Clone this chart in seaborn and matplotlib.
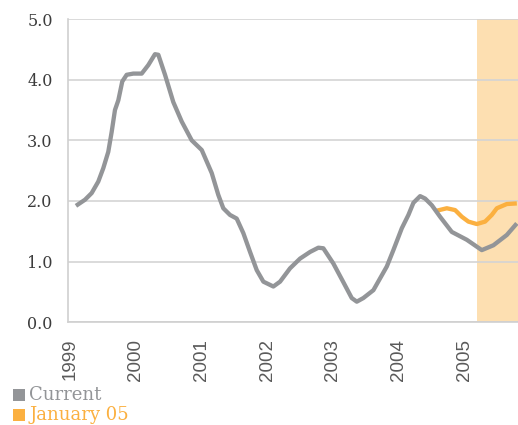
import matplotlib
matplotlib.use("Agg")
import matplotlib.pyplot as plt
import seaborn as sns
import pandas as pd
from matplotlib.patches import Rectangle

# Data (decimal years, value)
current_t = [1999.091, 1999.228, 1999.330, 1999.431, 1999.507, 1999.583, 1999.635, 1999.685,
             1999.736, 1999.796, 1999.863, 1999.964, 2000.092, 2000.192, 2000.294, 2000.345,
             2000.447, 2000.573, 2000.701, 2000.853, 2001.006, 2001.082, 2001.158, 2001.258,
             2001.334, 2001.436, 2001.538, 2001.639, 2001.741, 2001.843, 2001.944, 2002.096,
             2002.198, 2002.350, 2002.502, 2002.655, 2002.781, 2002.857, 2003.009, 2003.162,
             2003.289, 2003.366, 2003.466, 2003.619, 2003.823, 2003.923, 2004.051, 2004.152,
             2004.228, 2004.330, 2004.406, 2004.508, 2004.634, 2004.812, 2005.041, 2005.269,
             2005.446, 2005.650, 2005.802]
current_v = [1.92, 2.02, 2.13, 2.32, 2.54, 2.81, 3.14, 3.50,
             3.66, 3.97, 4.08, 4.10, 4.10, 4.24, 4.42, 4.41,
             4.08, 3.63, 3.31, 3.00, 2.84, 2.65, 2.46, 2.10,
             1.88, 1.77, 1.71, 1.47, 1.16, 0.86, 0.67, 0.59,
             0.67, 0.89, 1.05, 1.16, 1.23, 1.22, 0.97, 0.66,
             0.40, 0.34, 0.40, 0.53, 0.92, 1.19, 1.55, 1.77,
             1.97, 2.08, 2.04, 1.93, 1.74, 1.49, 1.36, 1.19,
             1.27, 1.44, 1.63]
jan05_t = [2004.584, 2004.736, 2004.863, 2004.965, 2005.065, 2005.193, 2005.319,
           2005.421, 2005.498, 2005.650, 2005.802]
jan05_v = [1.84, 1.88, 1.85, 1.74, 1.66, 1.62, 1.66, 1.77, 1.88, 1.95, 1.96]
year_ticks = [1999, 2000, 2001, 2002, 2003, 2004, 2005]
year_labels = ["1999", "2000", "2001", "2002", "2003", "2004", "2005"]
y_ticks = [0.0, 1.0, 2.0, 3.0, 4.0, 5.0]
shade_start = 2005.20
series_names = ["Current", "January 05"]

GRAY = "#939598"
ORANGE = "#FBB040"
SHADE = "#FDDFB1"

sns.set_theme(style="white")
plt.rcParams['font.family'] = ['DejaVu Sans']

W, H = 518, 425
fig = plt.figure(figsize=(W / 100, H / 100), dpi=100)
ax = fig.add_axes([68 / W, 102.7 / H, 450 / W, 303.3 / H])

df_cur = pd.DataFrame({"t": current_t, "v": current_v})
df_jan = pd.DataFrame({"t": jan05_t, "v": jan05_v})

xmin, xmax = 1998.97, 2005.82
ax.axvspan(shade_start, xmax + 1, color=SHADE, lw=0, zorder=0)
sns.lineplot(data=df_cur, x="t", y="v", ax=ax, color=GRAY, lw=3.1, zorder=3,
             solid_joinstyle="round", solid_capstyle="butt")
sns.lineplot(data=df_jan, x="t", y="v", ax=ax, color=ORANGE, lw=3.1, zorder=2,
             solid_joinstyle="round", solid_capstyle="butt")

ax.set_xlim(xmin, xmax)
ax.set_ylim(0, 5.0)
ax.set_yticks(y_ticks)
ax.set_yticklabels([f"{v:.1f}" for v in y_ticks], family="DejaVu Serif",
                   fontsize=11.5, color="#3c3c3c")
ax.set_xticks(year_ticks)
ax.set_xticklabels(year_labels, rotation=90, family="Liberation Sans",
                   fontsize=13.5, color="#5a5a5a")
ax.tick_params(axis="y", length=0, pad=11)
ax.tick_params(axis="x", length=0, pad=12)
ax.yaxis.grid(True, color="#d4d4d4", lw=1.2)
ax.set_axisbelow(True)
ax.set_xlabel("")
ax.set_ylabel("")
for s in ["top", "right"]:
    ax.spines[s].set_visible(False)
for s in ["left", "bottom"]:
    ax.spines[s].set_color("#d0d0d0")
    ax.spines[s].set_linewidth(1.2)

# Legend (manual, bottom-left)
for i, (name, col) in enumerate(zip(series_names, [GRAY, ORANGE])):
    yc = 395 + 20 * i
    fig.patches.append(Rectangle((13 / W, (H - yc - 6) / H), 12 / W, 12 / H,
                                 transform=fig.transFigure, color=col, lw=0))
    fig.text(29 / W, (H - yc) / H, name, color=col, family="DejaVu Serif",
             fontsize=13, va="center", ha="left")

fig.savefig("out.png", dpi=100)
